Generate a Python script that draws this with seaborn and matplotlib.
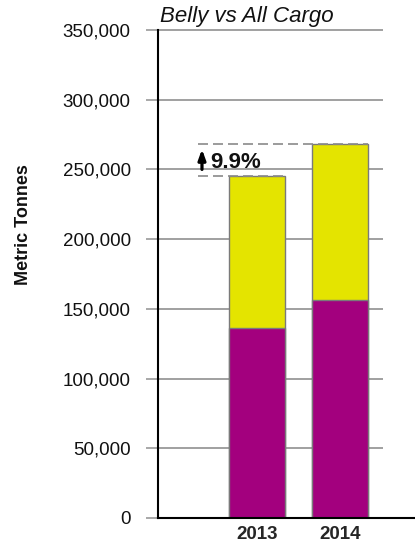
import matplotlib
matplotlib.use("Agg")
import matplotlib.pyplot as plt
import matplotlib.ticker as mticker
import seaborn as sns
import pandas as pd

years = ["2013", "2014"]
all_cargo = [245000, 268000]
belly = [136000, 156000]
y_ticks = [0, 50000, 100000, 150000, 200000, 250000, 300000, 350000]
growth_label = "9.9%"
title = "Belly vs All Cargo"
y_label = "Metric Tonnes"

sns.set_theme(style="white")
plt.rcParams['font.family'] = ['Liberation Sans', 'DejaVu Sans']

W, H = 415, 544
fig = plt.figure(figsize=(W / 100, H / 100), dpi=100)
ax = fig.add_axes([158 / W, 1 - 518 / H, (W - 158) / W, (518 - 30) / H])

df = pd.DataFrame({"year": years, "all": all_cargo, "belly": belly})
yellow = "#E4E400"
purple = "#A3007E"
edge = "#7a7a7a"
bw = 0.675

sns.barplot(data=df, x="year", y="all", color=yellow, width=bw,
            edgecolor=edge, linewidth=1.0, saturation=1, ax=ax, zorder=3)
sns.barplot(data=df, x="year", y="belly", color=purple, width=bw,
            edgecolor=edge, linewidth=1.0, saturation=1, ax=ax, zorder=3)

xl, xr = -1.193, 1.904
ax.set_xlim(xl, xr)
ax.set_ylim(0, 350000)

# gridlines ending before the right edge
ax.hlines(y_ticks[1:], xl, 1.518, colors="#999999", linewidth=1.3, zorder=1, clip_on=False)

ax.set_yticks(y_ticks)
ax.yaxis.set_major_formatter(mticker.FuncFormatter(lambda v, p: f"{int(v):,}"))
ax.tick_params(axis="y", which="major", left=True, length=8.6, width=1.2,
               color="#999999", pad=11, labelsize=13.5, labelcolor="#111111")
ax.tick_params(axis="x", which="major", bottom=False, length=0, pad=6, labelsize=13.5)
for t in ax.get_xticklabels():
    t.set_fontweight("bold")

ax.set_xlabel("")
ax.set_ylabel("")
for s in ["top", "right"]:
    ax.spines[s].set_visible(False)
ax.spines["left"].set_color("black")
ax.spines["left"].set_linewidth(1.5)
ax.spines["bottom"].set_color("black")
ax.spines["bottom"].set_linewidth(1.5)
ax.spines["left"].set_zorder(5)
ax.spines["bottom"].set_zorder(5)

# growth annotation
xd = -0.711
ax.hlines([all_cargo[0]], xd, 0 + bw / 2, colors="#8a8a8a", linestyles=(0, (6, 3)), linewidth=1.2, zorder=4)
ax.hlines([all_cargo[1]], xd, 1 + bw / 2, colors="#8a8a8a", linestyles=(0, (6, 3)), linewidth=1.2, zorder=4)
ax.annotate("", xy=(-0.663, all_cargo[1] - 1500), xytext=(-0.663, all_cargo[0] + 3000),
            arrowprops=dict(arrowstyle="-|>,head_length=0.5,head_width=0.18", color="black", lw=2.3),
            zorder=6)
ax.text(-0.566, 251000, growth_label, fontsize=16, fontweight="bold", ha="left", va="baseline",
        color="#111111", zorder=6)

fig.text(160 / W, 1 - 22 / H, title, fontsize=16, style="italic", ha="left", va="baseline", color="#111111")
fig.text(24 / W, 1 - 225 / H, y_label, fontsize=13, fontweight="bold", rotation=90,
         ha="center", va="center", color="#111111")

fig.savefig("out.png", dpi=100, facecolor="white")
